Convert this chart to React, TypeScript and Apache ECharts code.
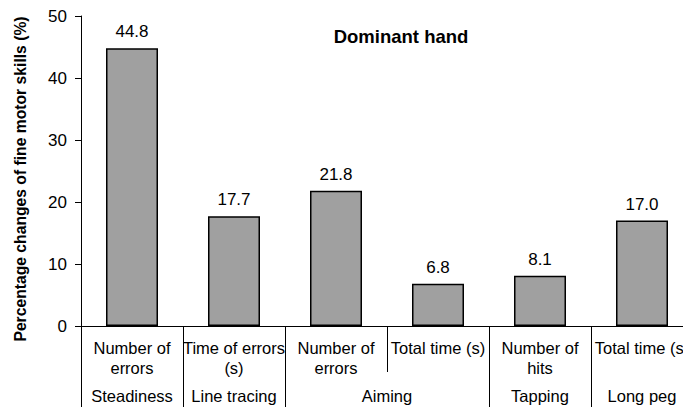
import React, { useEffect, useRef } from "react";
import * as echarts from "echarts";

const categories = [
  "Number of\nerrors",
  "Time of errors\n(s)",
  "Number of\nerrors",
  "Total time (s)",
  "Number of\nhits",
  "Total time (s)",
];
const values = [44.8, 17.7, 21.8, 6.8, 8.1, 17.0];
const groupNames = ["Steadiness", "Line tracing", "Aiming", "Tapping", "Long peg"];
const groupCenters = [0.5, 1.5, 3, 4.5, 5.5];
const groupBounds = [0, 1, 2, 4, 5, 6];
const yTicks = { min: 0, max: 50, interval: 10 };

const FONT = "'Liberation Sans', Arial, sans-serif";

export default function App() {
  const ref = useRef<HTMLDivElement>(null);
  useEffect(() => {
    if (!ref.current) return;
    const chart = echarts.init(ref.current, null, { renderer: "svg" });
    chart.setOption({
      animation: false,
      backgroundColor: "#ffffff",
      title: {
        text: "Dominant hand",
        left: 396,
        top: 22,
        textAlign: "center",
        textStyle: { fontFamily: FONT, fontWeight: "bold", fontSize: 18.5, color: "#000" },
      },
      grid: { left: 81, right: 7, top: 16, bottom: 81, containLabel: false },
      xAxis: [
        {
          type: "category",
          data: categories,
          position: "bottom",
          axisLine: { show: true, lineStyle: { color: "#000", width: 1 } },
          axisTick: { show: true, length: 46, interval: 0, lineStyle: { color: "#000" } },
          axisLabel: {
            interval: 0,
            margin: 12,
            fontFamily: FONT,
            fontSize: 16.5,
            lineHeight: 20,
            color: "#000",
          },
          splitLine: { show: false },
        },
        {
          type: "value",
          min: 0,
          max: 6,
          position: "bottom",
          axisLine: { show: false },
          axisTick: {
            show: true,
            length: 81,
            customValues: groupBounds,
            lineStyle: { color: "#000" },
          },
          axisLabel: {
            show: true,
            customValues: groupCenters,
            margin: 61,
            fontFamily: FONT,
            fontSize: 16.5,
            color: "#000",
            formatter: (v: number) => {
              const i = groupCenters.indexOf(v);
              return i >= 0 ? groupNames[i] : "";
            },
          },
          splitLine: { show: false },
        },
      ],
      yAxis: {
        type: "value",
        min: yTicks.min,
        max: yTicks.max,
        interval: yTicks.interval,
        name: "Percentage changes of fine motor skills (%)",
        nameLocation: "middle",
        nameGap: 53,
        nameTextStyle: {
          fontFamily: FONT,
          fontWeight: "bold",
          fontSize: 15.7,
          color: "#000",
          padding: [0, 16, 0, 0],
        },
        axisLine: { show: true, lineStyle: { color: "#000" } },
        axisTick: { show: true, length: 6, lineStyle: { color: "#000" } },
        axisLabel: { fontFamily: FONT, fontSize: 17, color: "#000", margin: 14 },
        splitLine: { show: false },
      },
      series: [
        {
          type: "bar",
          xAxisIndex: 0,
          data: values,
          barWidth: 52,
          itemStyle: { color: "#a0a0a0", borderColor: "#000", borderWidth: 1.5 },
          label: {
            show: true,
            position: "top",
            distance: 8,
            fontFamily: FONT,
            fontSize: 17,
            color: "#000",
            formatter: (p: any) => Number(p.value).toFixed(1),
          },
        },
      ],
    });
    return () => chart.dispose();
  }, []);
  return (
    <div
      style={{
        position: "fixed",
        left: 0,
        top: 0,
        width: 683,
        height: 407,
        overflow: "hidden",
        background: "#fff",
      }}
    >
      <div ref={ref} style={{ width: 700, height: 407 }} />
    </div>
  );
}
